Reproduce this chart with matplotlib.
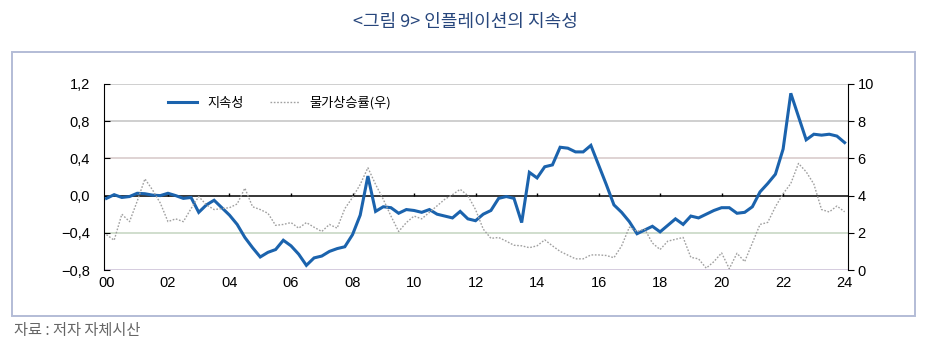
import numpy as np
import matplotlib
matplotlib.use("Agg")
import matplotlib.pyplot as plt
from matplotlib.ticker import FuncFormatter
from matplotlib.patches import Rectangle
from matplotlib.lines import Line2D

plt.rcParams['font.family'] = ['Liberation Sans', 'Noto Sans CJK KR', 'DejaVu Sans']

# ---- data (quarterly, 2000Q1 .. 2024Q1; x in years since 2000) ----
quarters = np.arange(97) / 4.0

persistence = [
    -0.03, 0.01, -0.02, -0.01, 0.025, 0.02, 0.005, 0.0,          # 2000-01
    0.025, 0.0, -0.03, -0.02, -0.18, -0.10, -0.05, -0.13,        # 2002-03
    -0.21, -0.31, -0.45, -0.56, -0.66, -0.61, -0.58, -0.48,      # 2004-05
    -0.54, -0.63, -0.75, -0.67, -0.65, -0.60, -0.57, -0.55,      # 2006-07
    -0.42, -0.21, 0.21, -0.17, -0.12, -0.13, -0.19, -0.15,       # 2008-09
    -0.16, -0.18, -0.15, -0.20, -0.22, -0.24, -0.17, -0.25,      # 2010-11
    -0.27, -0.20, -0.16, -0.03, -0.01, -0.03, -0.29, 0.25,       # 2012-13
    0.19, 0.31, 0.33, 0.52, 0.51, 0.47, 0.47, 0.54,              # 2014-15
    0.33, 0.12, -0.10, -0.18, -0.28, -0.41, -0.37, -0.33,        # 2016-17
    -0.39, -0.32, -0.25, -0.31, -0.22, -0.24, -0.20, -0.16,      # 2018-19
    -0.13, -0.13, -0.19, -0.18, -0.12, 0.04, 0.13, 0.23,         # 2020-21
    0.50, 1.10, 0.85, 0.60, 0.66, 0.65, 0.66, 0.64,              # 2022-23
    0.57,                                                        # 2024
]

inflation = [
    1.9, 1.6, 3.0, 2.6, 3.7, 4.9, 4.3, 3.6,                      # 2000-01
    2.6, 2.75, 2.6, 3.3, 3.95, 3.5, 3.25, 3.3,                   # 2002-03
    3.35, 3.55, 4.4, 3.4, 3.25, 3.05, 2.4, 2.45,                 # 2004-05
    2.55, 2.25, 2.55, 2.3, 2.07, 2.45, 2.25, 3.3,                # 2006-07
    3.9, 4.6, 5.5, 4.6, 3.8, 2.9, 2.07, 2.55,                    # 2008-09
    2.9, 2.75, 3.1, 3.45, 3.8, 4.05, 4.34, 4.0,                  # 2010-11
    3.25, 2.2, 1.7, 1.75, 1.55, 1.33, 1.3, 1.2,                  # 2012-13
    1.3, 1.62, 1.3, 1.0, 0.8, 0.6, 0.6, 0.81,                    # 2014-15
    0.81, 0.78, 0.66, 1.3, 2.3, 2.07, 2.2, 1.45,                 # 2016-17
    1.1, 1.55, 1.65, 1.75, 0.68, 0.6, 0.1, 0.45,                 # 2018-19
    0.92, 0.07, 0.9, 0.45, 1.45, 2.45, 2.56, 3.4,                # 2020-21
    4.1, 4.65, 5.73, 5.28, 4.62, 3.25, 3.12, 3.44,               # 2022-23
    3.13,                                                        # 2024
]

x_ticks = list(range(0, 25, 2))
x_labels = [f"{y:02d}" for y in x_ticks]
left_ticks = [-0.8, -0.4, 0.0, 0.4, 0.8, 1.2]
right_ticks = [0, 2, 4, 6, 8, 10]

title = "<그림 9> 인플레이션의 지속성"
source = "자료 : 저자 자체시산"
label_pers = "지속성"
label_infl = "물가상승률(우)"

# ---- figure ----
W, H = 930, 356
fig = plt.figure(figsize=(W / 100, H / 100), dpi=100)

# outer frame
fig.patches.append(Rectangle((12 / W, 1 - 316 / H), (915 - 12) / W, (316 - 52) / H,
                             transform=fig.transFigure, fill=False,
                             edgecolor='#b3bcd6', linewidth=1.4))

fig.text(465 / W, 1 - 22 / H, title, ha='center', va='center', fontsize=13,
         color='#27467c', family=['Noto Sans CJK KR', 'DejaVu Sans'])
fig.text(14 / W, 1 - 331 / H, source, ha='left', va='center', fontsize=11,
         color='#666666', family=['Noto Sans CJK KR', 'DejaVu Sans'])

ax = fig.add_axes([104 / W, 1 - 270 / H, 744 / W, 186 / H])
ax2 = ax.twinx()

ax.set_xlim(-0.08, 24.11)
ax.set_ylim(-0.8, 1.2)
ax2.set_ylim(0, 10)

grid_colors = {-0.8: '#d2c8dc', -0.4: '#cddbc9', 0.4: '#dcd0d0', 0.8: '#cccccc', 1.2: '#cccccc'}
for lv in left_ticks:
    if lv == 0.0:
        ax.axhline(lv, color='black', lw=1.1, zorder=2)
    else:
        ax.axhline(lv, color=grid_colors[lv], lw=1.3, zorder=1)

# small tick marks on the zero line
ax.vlines(x_ticks[1:-1], 0, 0.03, color='black', lw=1.0, zorder=2)

ax.plot(quarters, persistence, color='#1b63ad', lw=2.2, zorder=4, solid_joinstyle='miter')
ax2.plot(quarters, inflation, color='#a0a0a0', lw=1.0, ls=(0, (1.2, 1.2)), zorder=3)

for a in (ax, ax2):
    for s in ('top', 'bottom'):
        a.spines[s].set_visible(False)
ax.spines['left'].set_color('black')
ax2.spines['right'].set_color('black')
ax.spines['right'].set_visible(False)
ax2.spines['left'].set_visible(False)

def fmt_left(v, pos):
    s = f"{v:.1f}".replace('.', ',')
    if v < -1e-9:
        s = s.replace('-', '\u2212')
    if abs(v) < 1e-9:
        s = "0,0"
    return s

ax.set_yticks(left_ticks)
ax.yaxis.set_major_formatter(FuncFormatter(fmt_left))
ax.tick_params(axis='y', direction='in', length=4, pad=10, labelsize=10.5)
ax2.set_yticks(right_ticks)
ax2.tick_params(axis='y', direction='out', length=4, pad=3, labelsize=10.5)

ax.set_xticks(x_ticks)
ax.set_xticklabels(x_labels)
ax.tick_params(axis='x', length=0, pad=4, labelsize=10.5)

handles = [Line2D([], [], color='#1b63ad', lw=2.2),
           Line2D([], [], color='#a0a0a0', lw=1.0, ls=(0, (1.2, 1.2)))]
leg = ax.legend(handles, [label_pers, label_infl], loc='upper left',
                bbox_to_anchor=((163 - 104) / 744, (270 - 91) / 186), ncol=2,
                frameon=False, handlelength=2.2, handletextpad=0.75,
                columnspacing=2.0, borderaxespad=0,
                prop={'family': ['Noto Sans CJK KR', 'DejaVu Sans'], 'size': 9.5})
leg.set_zorder(5)

fig.savefig('out.png', dpi=100)
